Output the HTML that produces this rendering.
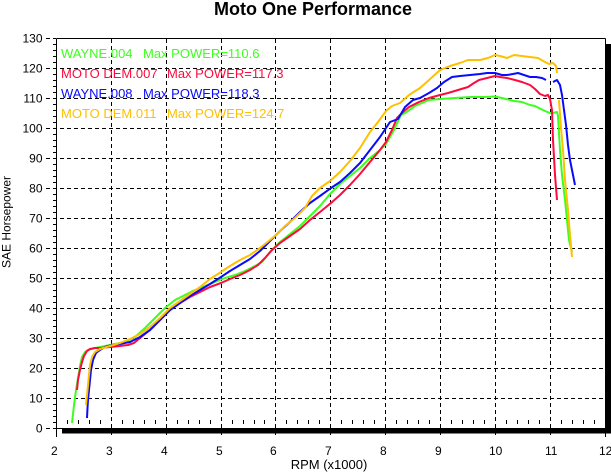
<!DOCTYPE html>
<html>
<head>
<meta charset="utf-8">
<style>
html,body{margin:0;padding:0;background:#fff;}
svg{display:block;}
text{font-family:"Liberation Sans",Arial,sans-serif;}
</style>
</head>
<body>
<svg width="611" height="473" viewBox="0 0 611 473" xmlns="http://www.w3.org/2000/svg">
<rect x="0" y="0" width="611" height="473" fill="#fff"/>

<!-- Title -->
<text x="214" y="15" font-size="18" font-weight="bold" fill="#000">Moto One Performance</text>

<!-- Horizontal dashed grid lines (extend left of axis) -->
<g stroke="#000" stroke-width="1" stroke-dasharray="4,3" fill="none">
<line x1="46" y1="398.5" x2="605" y2="398.5"/>
<line x1="46" y1="368.5" x2="605" y2="368.5"/>
<line x1="46" y1="338.5" x2="605" y2="338.5"/>
<line x1="46" y1="308.5" x2="605" y2="308.5"/>
<line x1="46" y1="278.5" x2="605" y2="278.5"/>
<line x1="46" y1="248.5" x2="605" y2="248.5"/>
<line x1="46" y1="218.5" x2="605" y2="218.5"/>
<line x1="46" y1="188.5" x2="605" y2="188.5"/>
<line x1="46" y1="158.5" x2="605" y2="158.5"/>
<line x1="46" y1="128.5" x2="605" y2="128.5"/>
<line x1="46" y1="98.5" x2="605" y2="98.5"/>
<line x1="46" y1="68.5" x2="605" y2="68.5"/>
<line x1="46" y1="38.5" x2="56" y2="38.5"/>
<line x1="46" y1="428.5" x2="56" y2="428.5"/>
</g>

<!-- Vertical dashed grid lines -->
<g stroke="#000" stroke-width="1" stroke-dasharray="4,3" fill="none">
<line x1="111.5" y1="39" x2="111.5" y2="437"/>
<line x1="166.5" y1="39" x2="166.5" y2="437"/>
<line x1="221.5" y1="39" x2="221.5" y2="437"/>
<line x1="275.5" y1="39" x2="275.5" y2="437"/>
<line x1="330.5" y1="39" x2="330.5" y2="437"/>
<line x1="385.5" y1="39" x2="385.5" y2="437"/>
<line x1="440.5" y1="39" x2="440.5" y2="437"/>
<line x1="495.5" y1="39" x2="495.5" y2="437"/>
<line x1="550.5" y1="39" x2="550.5" y2="437"/>
</g>

<!-- Minor x ticks -->
<g stroke="#000" stroke-width="1">
<path d="M67.5 420V424M78.5 420V424M89.5 420V424M100.5 420V424
M122.5 420V424M133.5 420V424M144.5 420V424M155.5 420V424
M177.5 420V424M188.5 420V424M199.5 420V424M210.5 420V424
M232.5 420V424M243.5 420V424M254.5 420V424M264.5 420V424
M286.5 420V424M297.5 420V424M308.5 420V424M319.5 420V424
M341.5 420V424M352.5 420V424M363.5 420V424M374.5 420V424
M396.5 420V424M407.5 420V424M418.5 420V424M429.5 420V424
M451.5 420V424M462.5 420V424M473.5 420V424M484.5 420V424
M506.5 420V424M517.5 420V424M528.5 420V424M539.5 420V424
M561.5 420V424M572.5 420V424M583.5 420V424M594.5 420V424"/>
</g>

<!-- Minor y ticks (left of axis) -->
<g stroke="#000" stroke-width="1">
<path d="M53 44.5H56M53 50.5H56M53 56.5H56M53 62.5H56
M53 74.5H56M53 80.5H56M53 86.5H56M53 92.5H56
M53 104.5H56M53 110.5H56M53 116.5H56M53 122.5H56
M53 134.5H56M53 140.5H56M53 146.5H56M53 152.5H56
M53 164.5H56M53 170.5H56M53 176.5H56M53 182.5H56
M53 194.5H56M53 200.5H56M53 206.5H56M53 212.5H56
M53 224.5H56M53 230.5H56M53 236.5H56M53 242.5H56
M53 254.5H56M53 260.5H56M53 266.5H56M53 272.5H56
M53 284.5H56M53 290.5H56M53 296.5H56M53 302.5H56
M53 314.5H56M53 320.5H56M53 326.5H56M53 332.5H56
M53 344.5H56M53 350.5H56M53 356.5H56M53 362.5H56
M53 374.5H56M53 380.5H56M53 386.5H56M53 392.5H56
M53 404.5H56M53 410.5H56M53 416.5H56M53 422.5H56"/>
</g>

<!-- Frame -->
<g stroke="#000" stroke-width="1" fill="none">
<line x1="56.5" y1="38.5" x2="605.5" y2="38.5"/>
<line x1="605.5" y1="38.5" x2="605.5" y2="428.5"/>
<line x1="56.5" y1="38.5" x2="56.5" y2="437"/>
<line x1="56.5" y1="428.5" x2="62" y2="428.5"/>
<line x1="605.5" y1="433" x2="605.5" y2="437"/>
</g>
<!-- Shadow -->
<rect x="62" y="428" width="549" height="5.5" fill="#000"/>
<rect x="606" y="44" width="5" height="389.5" fill="#000"/>

<!-- Curves -->
<g fill="none" stroke-width="2" stroke-linejoin="round" stroke-linecap="butt">
<!-- Green WAYNE.004 -->
<polyline stroke="#3cff1e" points="72,423 74,405 76,390 78,378 80,366 82,357 85,352 88,350 95,348 105,346 115,344 125,342 135,337 145,328 155,318 165,308 175,300 185,295 195,290 205,286 215,282 225,278 235,275 245,271 255,266 262,262 270,252 280,242 290,234 300,226 310,216 320,206 330,194 340,184 350,176 360,168 370,158 380,150 386,144 394,130 401,115 405,113 415,106 429,100 440,99 455,98 470,97 485,97 495,96.5 506,99 514,101 522,102 530,105 535,106 545,111 550,113 553,113 557,112 558,116 560,150 562,175 565,200 567,220 569,240 572,252"/>
<!-- Red MOTO DEM.007 -->
<polyline stroke="#ff0a3c" points="77,390 78,380 80,370 82,362 84,356 87,351 90,349 95,348 100,348 110,347 120,346 128,345 134,343 140,338 150,330 160,320 170,310 180,303 190,297 200,292 210,287 221,283 230,279 240,275 250,270 258,265 265,258 272,250 280,243 290,236 300,229 310,220 320,212 331,203 340,195 350,185 360,174 370,162 380,150 386,142 392,130 397,118 403,112 409,107 419,102 429,98 440,95 448,93 458,90 468,87 474,83 479,80 487,78 495,76 500,77 507,78 515,80 522,82 530,85 535,89 540,94 545,96 548,95 550,99 552,110 553,140 555,175 557,200"/>
<!-- Blue WAYNE.008 -->
<polyline stroke="#0a0aff" points="87,418 87.5,408 88,400 89,390 90,380 91,370 93,360 96,353 100,350 105,347 112,345 120,344 130,342 140,337 150,330 160,320 170,310 180,303 190,296 200,290 210,284 221,277 230,271 240,265 250,259 260,251 270,241 280,231 290,222 300,212 310,203 320,196 331,188 340,182 350,173 360,163 370,150 380,137 386,128 390,122 398,119 405,107 413,100 420,98 429,93 437,88 444,82 452,77 460,76 470,75 480,74 487,73 495,73 502,75 507,75 513,74 518,73 524,75 530,77 536,77 542,78 546,80"/>
<polyline stroke="#0a0aff" points="553,82 555,81 557,80 560,85 562,95 564,110 566,125 568,145 570,160 572,170 574,180 575,185"/>
<!-- Yellow MOTO DEM.011 -->
<polyline stroke="#ffc000" points="86,405 87,395 88,385 89,375 90,365 92,357 95,352 100,349 110,346 120,343 130,339 140,334 150,327 160,318 170,308 180,301 190,294 200,287 210,279 221,272 230,266 240,260 250,255 260,248 270,240 276,235 285,226 295,218 305,208 312,196 320,188 330,181 340,172 350,161 360,148 370,132 378,122 386,111 392,106 400,103 409,95 420,88 429,80 440,70 450,66 460,63 468,60 480,60 488,58 495,55 500,56 507,58 514,55 522,56 530,57 538,58 545,62 549,64 553,63 556,66 557,73"/>
<polyline stroke="#ffc000" points="559,100 561,128 563,150 565,180 568,210 570,235 572,257"/>
</g>

<!-- Legend -->
<g font-size="13">
<text x="61" y="58" fill="#3cff1e">WAYNE.004</text>
<text x="143" y="58" fill="#3cff1e">Max POWER=110.6</text>
<text x="61" y="78" fill="#ff0a3c">MOTO DEM.007</text>
<text x="167" y="78" fill="#ff0a3c">Max POWER=117.3</text>
<text x="61" y="98" fill="#0a0aff">WAYNE.008</text>
<text x="143" y="98" fill="#0a0aff">Max POWER=118.3</text>
<text x="61" y="118" fill="#ffc000">MOTO DEM.011</text>
<text x="167" y="118" fill="#ffc000">Max POWER=124.7</text>
</g>

<!-- Y tick labels -->
<g font-size="12" fill="#000" text-anchor="end">
<text x="42.5" y="432.5">0</text>
<text x="42.5" y="402.5">10</text>
<text x="42.5" y="372.5">20</text>
<text x="42.5" y="342.5">30</text>
<text x="42.5" y="312.5">40</text>
<text x="42.5" y="282.5">50</text>
<text x="42.5" y="252.5">60</text>
<text x="42.5" y="222.5">70</text>
<text x="42.5" y="192.5">80</text>
<text x="42.5" y="162.5">90</text>
<text x="42.5" y="132.5">100</text>
<text x="42.5" y="102.5">110</text>
<text x="42.5" y="72.5">120</text>
<text x="42.5" y="42.5">130</text>
</g>

<!-- X tick labels -->
<g font-size="12" fill="#000">
<text x="51" y="455">2</text>
<text x="106" y="455">3</text>
<text x="161" y="455">4</text>
<text x="216" y="455">5</text>
<text x="270" y="455">6</text>
<text x="325" y="455">7</text>
<text x="380" y="455">8</text>
<text x="435" y="455">9</text>
<text x="489" y="455">10</text>
<text x="545" y="455">11</text>
<text x="599" y="455">12</text>
</g>

<!-- Axis titles -->
<text x="329" y="469" font-size="13" fill="#000" text-anchor="middle">RPM (x1000)</text>
<text transform="translate(10.5,222) rotate(-90)" font-size="12" fill="#000" text-anchor="middle">SAE Horsepower</text>
</svg>
</body>
</html>
